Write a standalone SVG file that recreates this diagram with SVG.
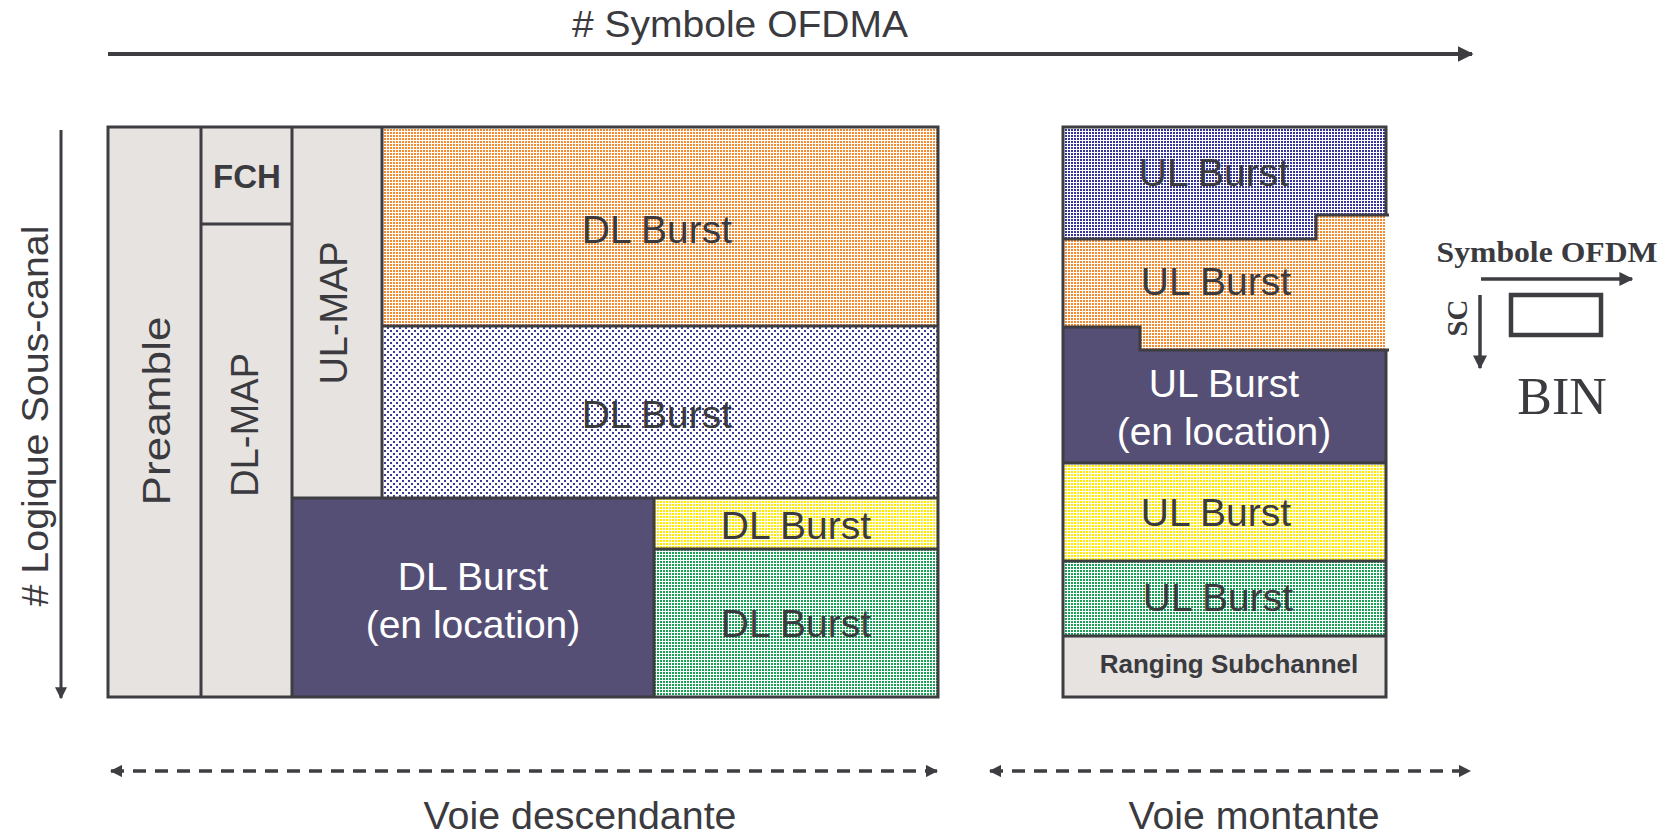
<svg xmlns="http://www.w3.org/2000/svg" width="1670" height="834" viewBox="0 0 1670 834">
<style>
.t{font-family:"Liberation Sans",Arial,sans-serif;fill:#3a3a3f}
.w{font-family:"Liberation Sans",Arial,sans-serif;fill:#ffffff}
.tb{font-family:"Liberation Sans",Arial,sans-serif;font-weight:bold;fill:#3a3a3f}
.serif{font-family:"Liberation Serif","Times New Roman",serif;fill:#3a3a3f}
.ln{stroke:#3d3d42;stroke-width:3;fill:none}
.gray{fill:#e6e3e0}
.dark{fill:#554f75}
</style>
<defs>
<pattern id="pOrange" width="3" height="3" patternUnits="userSpaceOnUse"><rect width="3" height="3" fill="#fff"/><rect width="2" height="2" fill="#f58a2e"/></pattern>
<pattern id="pBlueDense" width="3" height="3" patternUnits="userSpaceOnUse"><rect width="3" height="3" fill="#fff"/><rect width="2" height="2" fill="#34349a"/></pattern>
<pattern id="pBlueSparse" width="6" height="6" patternUnits="userSpaceOnUse"><rect width="6" height="6" fill="#fff"/><rect width="2" height="2" fill="#3a3a9a"/><rect x="3" y="3" width="2" height="2" fill="#3a3a9a"/></pattern>
<pattern id="pYellow" width="3" height="3" patternUnits="userSpaceOnUse"><rect width="3" height="3" fill="#fff"/><rect width="2" height="2" fill="#ffea00"/></pattern>
<pattern id="pGreen" width="3" height="3" patternUnits="userSpaceOnUse"><rect width="3" height="3" fill="#fff"/><rect width="2" height="2" fill="#18a054"/></pattern>
<marker id="ah" viewBox="0 0 10 10" refX="9" refY="5" markerWidth="4" markerHeight="4" orient="auto-start-reverse" markerUnits="strokeWidth"><path d="M0,0 L10,5 L0,10 Z" fill="#3d3d42"/></marker>
<marker id="ahs" viewBox="0 0 10 10" refX="9" refY="5" markerWidth="3.5" markerHeight="3.5" orient="auto-start-reverse" markerUnits="strokeWidth"><path d="M0,0 L10,5 L0,10 Z" fill="#3d3d42"/></marker>
</defs>
<rect width="1670" height="834" fill="#ffffff"/>

<g id="labels">
<text class="t" x="740" y="37" font-size="36" text-anchor="middle" textLength="336" lengthAdjust="spacingAndGlyphs"># Symbole OFDMA</text>
<text class="t" transform="translate(48,416) rotate(-90)" font-size="36" text-anchor="middle" textLength="381" lengthAdjust="spacingAndGlyphs"># Logique Sous-canal</text>
<text class="t" x="580" y="829" font-size="38" text-anchor="middle" textLength="313" lengthAdjust="spacingAndGlyphs">Voie descendante</text>
<text class="t" x="1254" y="829" font-size="38" text-anchor="middle" textLength="251" lengthAdjust="spacingAndGlyphs">Voie montante</text>
</g>

<g id="preamble">
<rect class="gray" x="108" y="127" width="93" height="570"/>
<text class="t" transform="translate(170,411) rotate(-90)" font-size="39" text-anchor="middle" textLength="189" lengthAdjust="spacingAndGlyphs">Preamble</text>
</g>
<g id="fch">
<rect class="gray" x="201" y="127" width="91" height="97"/>
<text class="tb" x="247" y="188" font-size="33" text-anchor="middle">FCH</text>
</g>
<g id="dl-map">
<rect class="gray" x="201" y="224" width="91" height="473"/>
<text class="t" transform="translate(258,425) rotate(-90)" font-size="39" text-anchor="middle" textLength="144" lengthAdjust="spacingAndGlyphs">DL-MAP</text>
</g>
<g id="ul-map">
<rect class="gray" x="292" y="127" width="90" height="371"/>
<text class="t" transform="translate(347,313) rotate(-90)" font-size="39" text-anchor="middle" textLength="143" lengthAdjust="spacingAndGlyphs">UL-MAP</text>
</g>
<g id="dl-burst-orange">
<rect fill="url(#pOrange)" x="382" y="127" width="556" height="199"/>
<text class="t" x="657" y="243" font-size="39" text-anchor="middle">DL Burst</text>
</g>
<g id="dl-burst-blue">
<rect fill="url(#pBlueSparse)" x="382" y="326" width="556" height="172"/>
<text class="t" x="657" y="428" font-size="39" text-anchor="middle">DL Burst</text>
</g>
<g id="dl-burst-location">
<rect class="dark" x="292" y="498" width="362" height="199"/>
<text class="w" x="473" y="590" font-size="39" text-anchor="middle">DL Burst</text>
<text class="w" x="473" y="638" font-size="39" text-anchor="middle">(en location)</text>
</g>
<g id="dl-burst-yellow">
<rect fill="url(#pYellow)" x="654" y="498" width="284" height="51"/>
<text class="t" x="796" y="539" font-size="39" text-anchor="middle">DL Burst</text>
</g>
<g id="dl-burst-green">
<rect fill="url(#pGreen)" x="654" y="549" width="284" height="148"/>
<text class="t" x="796" y="637" font-size="39" text-anchor="middle">DL Burst</text>
</g>
<g id="dl-borders">
<rect class="ln" x="108" y="127" width="830" height="570"/>
<path class="ln" d="M201,127 V697 M292,127 V697 M382,127 V498 M201,224 H292 M382,326 H938 M292,498 H938 M654,498 V697 M654,549 H938"/>
</g>

<g id="ul-burst-blue">
<path fill="url(#pBlueDense)" d="M1063,127 H1386 V215 H1316 V239 H1063 Z"/>
<text class="t" x="1214" y="186" font-size="39" text-anchor="middle">UL Burst</text>
</g>
<g id="ul-burst-orange">
<path fill="url(#pOrange)" d="M1063,239 H1316 V215 H1386 V350 H1140 V327 H1063 Z"/>
<text class="t" x="1216" y="295" font-size="39" text-anchor="middle">UL Burst</text>
</g>
<g id="ul-burst-location">
<path class="dark" d="M1063,327 H1140 V350 H1386 V463 H1063 Z"/>
<text class="w" x="1224" y="397" font-size="39" text-anchor="middle">UL Burst</text>
<text class="w" x="1224" y="445" font-size="39" text-anchor="middle">(en location)</text>
</g>
<g id="ul-burst-yellow">
<rect fill="url(#pYellow)" x="1063" y="463" width="323" height="98"/>
<text class="t" x="1216" y="526" font-size="39" text-anchor="middle">UL Burst</text>
</g>
<g id="ul-burst-green">
<rect fill="url(#pGreen)" x="1063" y="561" width="323" height="75"/>
<text class="t" x="1218" y="611" font-size="39" text-anchor="middle">UL Burst</text>
</g>
<g id="ranging">
<rect class="gray" x="1063" y="636" width="323" height="61"/>
<text class="tb" x="1229" y="673" font-size="26" text-anchor="middle">Ranging Subchannel</text>
</g>
<g id="ul-borders">
<path class="ln" d="M1386,215 V127 H1063 V697 H1386 V350"/>
<path class="ln" d="M1063,239 H1316 V215 H1389 M1063,327 H1140 V350 H1389 M1063,463 H1386 M1063,561 H1386 M1063,636 H1386"/>
</g>

<g id="legend">
<text class="serif" x="1547" y="262" font-size="29" font-weight="bold" text-anchor="middle" textLength="221" lengthAdjust="spacingAndGlyphs">Symbole OFDM</text>
<rect x="1511" y="295" width="90" height="40" fill="none" stroke="#3d3d42" stroke-width="4.5"/>
<text class="serif" transform="translate(1467,318) rotate(-90)" font-size="30" font-weight="bold" text-anchor="middle" textLength="37" lengthAdjust="spacingAndGlyphs">SC</text>
<text class="serif" x="1562" y="414" font-size="52" text-anchor="middle">BIN</text>
</g>

<g id="connectors">
<line x1="108" y1="54" x2="1472" y2="54" stroke="#3d3d42" stroke-width="4" marker-end="url(#ah)"/>
<line x1="61" y1="130" x2="61" y2="698" stroke="#3d3d42" stroke-width="3" marker-end="url(#ah)"/>
<line x1="111" y1="771" x2="937" y2="771" stroke="#3d3d42" stroke-width="3.5" stroke-dasharray="13 9" marker-start="url(#ahs)" marker-end="url(#ahs)"/>
<line x1="990" y1="771" x2="1470" y2="771" stroke="#3d3d42" stroke-width="3.5" stroke-dasharray="13 9" marker-start="url(#ahs)" marker-end="url(#ahs)"/>
<line x1="1481" y1="279" x2="1632" y2="279" stroke="#3d3d42" stroke-width="3.5" marker-end="url(#ah)"/>
<line x1="1480" y1="295" x2="1480" y2="368" stroke="#3d3d42" stroke-width="3.5" marker-end="url(#ah)"/>
</g>
</svg>
